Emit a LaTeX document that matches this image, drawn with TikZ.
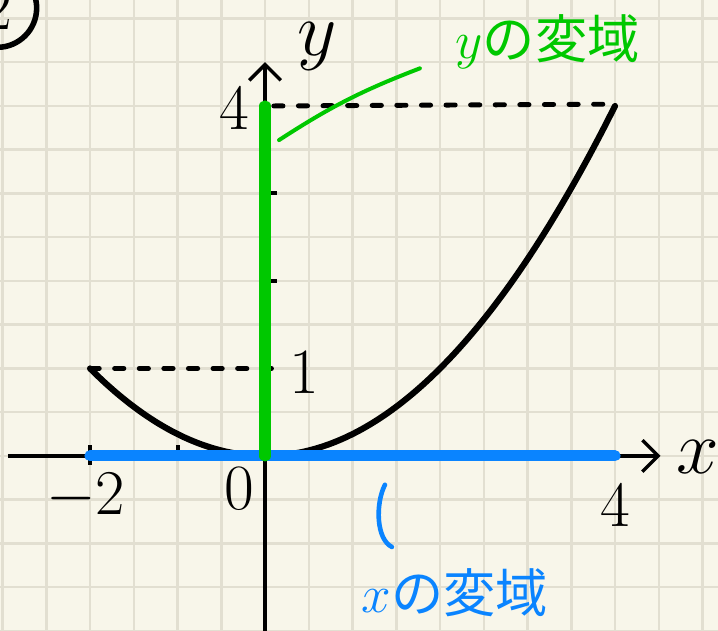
\documentclass[tikz,border=0pt]{standalone}
\usepackage{fontspec}
\newfontfamily\jpfont{Noto Sans CJK JP}
\usetikzlibrary{arrows.meta,positioning}
\definecolor{paper}{HTML}{F8F6EA}
\definecolor{gridline}{HTML}{E2DFD1}
\definecolor{rangegreen}{HTML}{00C800}
\definecolor{rangeblue}{HTML}{0A84FF}

\begin{document}
\begin{tikzpicture}[
  axisline/.style={line width=1.1pt, -{Straight Barb[length=1.8mm, width=3.6mm, line width=1.1pt]}},
  tickmark/.style={line width=1.3pt},
  guide/.style={line width=1.6pt, line cap=round, dash pattern=on 3pt off 5pt},
  curveline/.style={line width=2pt, line cap=round},
  yspan/.style={rangegreen, line width=3.6pt, line cap=round},
  xspan/.style={rangeblue, line width=3.6pt, line cap=round},
  num/.style={font=\fontsize{21}{24}\selectfont, inner sep=0pt},
  axlabel/.style={font=\fontsize{25}{28}\selectfont, inner sep=0pt},
  note/.style={font=\fontsize{17}{20}\selectfont, inner sep=0pt}
]
\useasboundingbox[fill=paper] (-3.029,-2.0) rectangle (5.177,5.211);
\draw[gridline, line width=0.8pt, step=0.5] (-3.029,-2.0) grid (5.177,5.211);

% points of the graph
\coordinate (O) at (0,0);
\coordinate (xneg) at (-2,0);
\coordinate (xpos) at (4,0);
\coordinate (pl) at (-2,1);
\coordinate (pr) at (4,4);
\coordinate (yone) at (0.15,1);
\coordinate (yfour) at (0,4);
\coordinate (dfour) at (0.1,4);
\coordinate (dend) at (3.9,4.02);

% axes
\coordinate (xstart) at (-2.94,0);
\coordinate (xend) at (4.52,0);
\coordinate (ystart) at (0,-2.05);
\coordinate (yend) at (0,4.5);
\draw[axisline] (xstart) -- (xend);
\draw[axisline] (ystart) -- (yend);

% ticks
\draw[tickmark] (-2,-0.1) -- (-2,0.12);
\draw[tickmark] (-1,0) -- (-1,0.12);
\foreach \t in {1,2,3}
  \draw[tickmark] (\t,0) -- (\t,0.06);
\foreach \t in {2,3}
  \draw[tickmark] (0,\t) -- (0.14,\t);

% dashed guides
\draw[guide] (pl) -- (yone);
\draw[guide] (dfour) -- (dend);

% y = x^2/4
\draw[curveline] plot[domain=-2:4, smooth, samples=40] (\x, {\x*\x/4});

% ranges
\draw[xspan] (xneg) -- (xpos);
\draw[yspan] (O) -- (yfour);

% labels
\node[axlabel] (ylab) at (0.6,4.68) {$y$};
\node[axlabel] (xlab) at (4.95,-0.01) {$x$};
\node[num] (lfour) at (-0.35,3.98) {4};
\node[num] (lone) at (0.45,0.96) {1};
\node[num] (lzero) at (-0.29,-0.37) {0};
\node[num] (lneg) at (-2.05,-0.47) {$-2$};
\node[num] (lxfour) at (4.0,-0.56) {4};
\node[num, draw, circle, line width=1.8pt, minimum size=0.9cm] (qnum) at (-3.06,5.12) {2};

% notes
\node[note, rangegreen] (ynote) at (3.23,4.73) {$y$\jpfont の変域};
\node[note, rangeblue] (xnote) at (2.17,-1.56) {$x$\jpfont の変域};
\coordinate (gp1) at (0.16,3.61);
\coordinate (gp2) at (1.77,4.43);
\draw[rangegreen, line width=1.3pt, line cap=round] (gp1) to[bend left=6] (gp2);
\coordinate (bp1) at (1.37,-0.33);
\coordinate (bp2) at (1.45,-1.04);
\draw[rangeblue, line width=1.5pt, line cap=round] (bp1) .. controls (1.26,-0.55) and (1.27,-0.95) .. (bp2);
\end{tikzpicture}
\end{document}
